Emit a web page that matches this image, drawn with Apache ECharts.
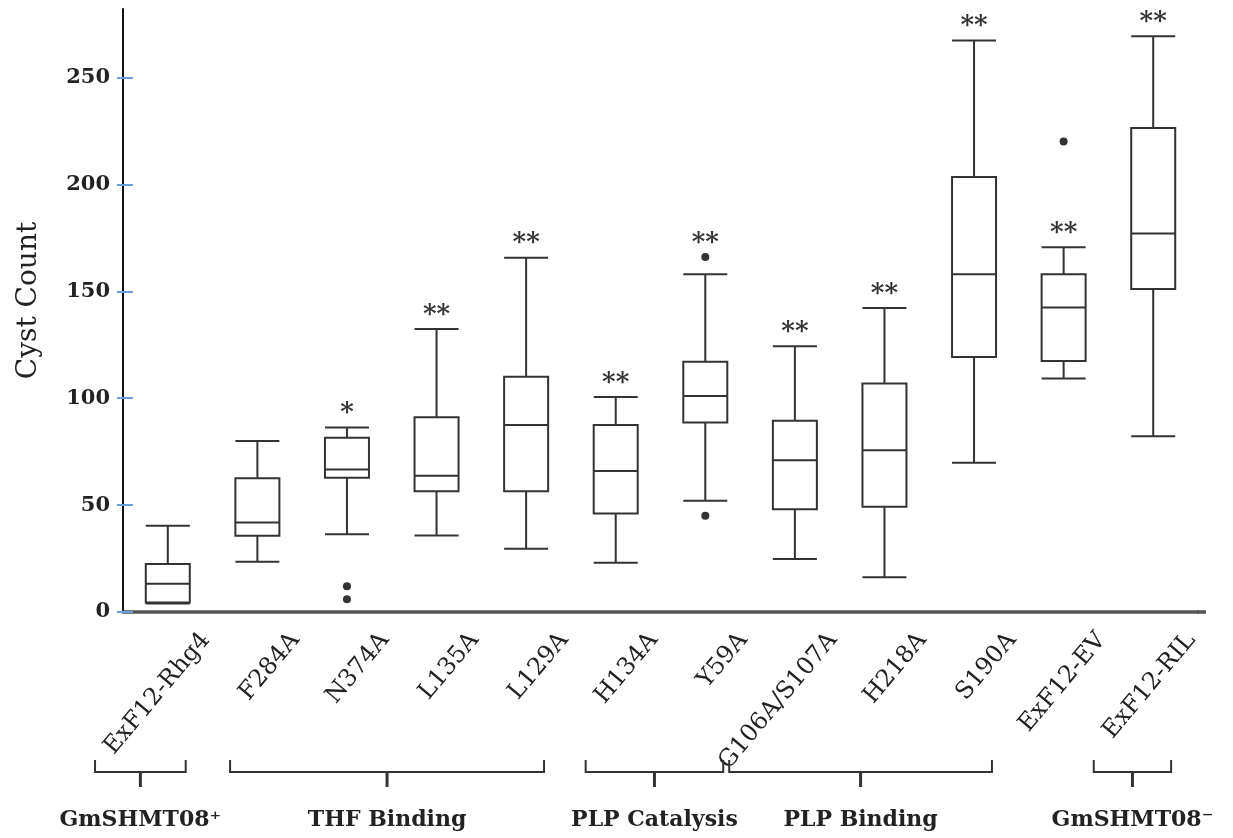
<!DOCTYPE html>
<html><head><meta charset="utf-8">
<script src="https://cdn.jsdelivr.net/npm/echarts@6/dist/echarts.min.js"></script>
<style>html,body{margin:0;padding:0;background:#fff}#c{width:1233px;height:838px}</style>
</head><body><div id="c"></div>
<script>
// ---- data ----
const categories = ['ExF12-Rhg4','F284A','N374A','L135A','L129A','H134A','Y59A','G106A/S107A','H218A','S190A','ExF12-EV','ExF12-RIL'];
const mins    = [4,    23.5, 36.4, 35.8, 29.6, 23,   52,   24.8, 16.2, 69.8,  109.2, 82.2];
const q1s     = [4.5,  35.7, 62.8, 56.5, 56.5, 46.1, 88.6, 48.1, 49.2, 119.3, 117.4, 151];
const medians = [13.2, 41.9, 66.7, 63.7, 87.4, 65.9, 101,  71,   75.7, 157.9, 142.4, 177];
const q3s     = [22.4, 62.5, 81.5, 91.1, 110,  87.4, 117,  89.4, 106.9,203.4, 158,   226.3];
const maxs    = [40.3, 80,   86.3, 132.4,165.7,100.6,158,  124.3,142.2,267.3, 170.6, 269.3];
const outlierCats = [2, 2, 6, 6, 10];
const outlierVals = [12, 6, 166, 45, 220];
const significance = ['', '', '*', '**', '**', '**', '**', '**', '**', '**', '**', '**'];
const groupNames = ['GmSHMT08\u207A', 'THF Binding', 'PLP Catalysis', 'PLP Binding', 'GmSHMT08\u207B'];
const groupFirst = [0, 1, 5, 7, 11];
const groupLast  = [0, 4, 6, 9, 11];
const yTicks = [0, 50, 100, 150, 200, 250];
const yMax = 282;

// ---- chart ----
const SERIF = '"DejaVu Serif", "Liberation Serif", serif';
const ink = '#222';
const tickBlue = '#6a9ed8';
const LABEL_SIZE = 24;
const LABEL_ROT = 50 * Math.PI / 180;
const LABEL_DX = 38, LABEL_DY = 24;
const RIGHT_FRAC = 0.2;

const measureCtx = document.createElement('canvas').getContext('2d');
function textWidth(t, size) { measureCtx.font = size + 'px ' + SERIF; return measureCtx.measureText(t).width; }

const boxData = categories.map((_, i) => [mins[i], q1s[i], medians[i], q3s[i], maxs[i]]);
const outlierData = outlierCats.map((c, i) => [c, outlierVals[i]]);
function starAnchor(i) {
  let a = maxs[i];
  outlierCats.forEach((c, k) => {
    if (c === i && outlierVals[k] > a && outlierVals[k] - maxs[i] < 15) a = outlierVals[k];
  });
  return a;
}
const starData = [];
significance.forEach((s, i) => { if (s) starData.push([i, starAnchor(i)]); });

const chart = echarts.init(document.getElementById('c'), null, {renderer: 'canvas'});
const option = {
  animation: false,
  backgroundColor: '#fff',
  grid: {left: 123, right: 35, top: 9, bottom: 226},
  xAxis: {
    type: 'category', data: categories, boundaryGap: true,
    axisLine: {show: true, lineStyle: {color: '#555', width: 3.5}},
    axisTick: {show: false}, axisLabel: {show: false}, splitLine: {show: false}
  },
  yAxis: [{
    type: 'value', min: 0, max: yMax,
    name: 'Cyst Count', nameLocation: 'middle', nameGap: 80, nameRotate: 90,
    nameTextStyle: {fontFamily: SERIF, fontSize: 28, color: ink, padding: [0, 0, 0, 20]},
    axisLine: {show: true, lineStyle: {color: '#111', width: 2}},
    axisTick: {show: true, customValues: yTicks, length: 6, lineStyle: {color: tickBlue, width: 2}},
    axisLabel: {customValues: yTicks, margin: 13, fontFamily: SERIF, fontWeight: 'bold', fontSize: 21, color: ink},
    splitLine: {show: false}
  }, {
    type: 'value', min: 0, max: yMax, position: 'left', offset: 0,
    axisLine: {show: false}, axisLabel: {show: false},
    axisTick: {show: true, inside: true, customValues: yTicks, length: 10, lineStyle: {color: tickBlue, width: 2}},
    splitLine: {show: false}
  }],
  series: [{
    type: 'boxplot', data: boxData, boxWidth: [44, 44],
    itemStyle: {color: '#fff', borderColor: '#333', borderWidth: 2},
    emphasis: {disabled: true}, silent: true, z: 3
  }, {
    type: 'scatter', data: outlierData, symbol: 'circle', symbolSize: 8,
    itemStyle: {color: '#000'}, silent: true, z: 4
  }, {
    type: 'scatter', data: starData, symbol: 'circle', symbolSize: 2,
    itemStyle: {color: 'rgba(0,0,0,0)'}, silent: true, z: 4,
    label: {show: true, position: 'top', distance: 0,
      formatter: p => significance[p.value[0]],
      fontFamily: SERIF, fontWeight: 'bold', fontSize: 26, color: '#000'}
  }, {
    type: 'custom', coordinateSystem: 'cartesian2d', clip: false, silent: true,
    data: categories.map((_, i) => [i, 0]), encode: {x: 0, y: 1},
    renderItem: (params, api) => {
      const p = api.coord([api.value(0), 0]);
      return {type: 'text', x: p[0] + LABEL_DX, y: p[1] + LABEL_DY, rotation: LABEL_ROT,
        style: {text: categories[params.dataIndex], fontFamily: SERIF, fontSize: LABEL_SIZE,
          fill: ink, align: 'right', verticalAlign: 'middle'}};
    }
  }, {
    type: 'custom', coordinateSystem: 'cartesian2d', clip: false, silent: true,
    data: groupNames.map((_, i) => [groupFirst[i], groupLast[i], 0]), encode: {x: [0, 1], y: 2},
    renderItem: (params, api) => {
      const gi = params.dataIndex;
      const band = api.size([1, 0])[0];
      const a = api.coord([api.value(0), 0]);
      const b = api.coord([api.value(1), 0]);
      // bracket starts at the lower end of the first category's rotated label
      const w = textWidth(categories[api.value(0)], LABEL_SIZE);
      let left = a[0] + LABEL_DX - w * Math.cos(LABEL_ROT) - 14;
      if (gi > 0) {
        const prevRight = api.coord([groupLast[gi - 1], 0])[0] + RIGHT_FRAC * band;
        left = Math.max(left, prevRight + 6);
      }
      const right = b[0] + RIGHT_FRAC * band, mid = (left + right) / 2;
      const yb = a[1] + 160;
      return {type: 'group', children: [
        {type: 'polyline', shape: {points: [[left, yb - 12], [left, yb], [right, yb], [right, yb - 12]]},
          style: {stroke: '#333', lineWidth: 2, fill: 'none'}},
        {type: 'line', shape: {x1: mid, y1: yb, x2: mid, y2: yb + 15}, style: {stroke: '#333', lineWidth: 3}},
        {type: 'text', x: mid, y: a[1] + 208, style: {text: groupNames[gi], fontFamily: SERIF,
          fontSize: 22, fontWeight: 'bold', fill: ink, align: 'center', verticalAlign: 'middle'}}
      ]};
    }
  }]
};
chart.setOption(option);
// extend the x axis line slightly past the last band, as in the reference
const firstX = chart.convertToPixel({xAxisIndex: 0}, categories[0]);
const lastX = chart.convertToPixel({xAxisIndex: 0}, categories[categories.length - 1]);
const bandW = (lastX - firstX) / (categories.length - 1);
const y0 = chart.convertToPixel({yAxisIndex: 0}, 0);
chart.setOption({graphic: [{type: 'line', shape: {x1: lastX + bandW / 2 - 1, y1: y0, x2: lastX + bandW / 2 + 8, y2: y0},
  style: {stroke: '#555', lineWidth: 3.5}, silent: true}]});
</script>
</body></html>
